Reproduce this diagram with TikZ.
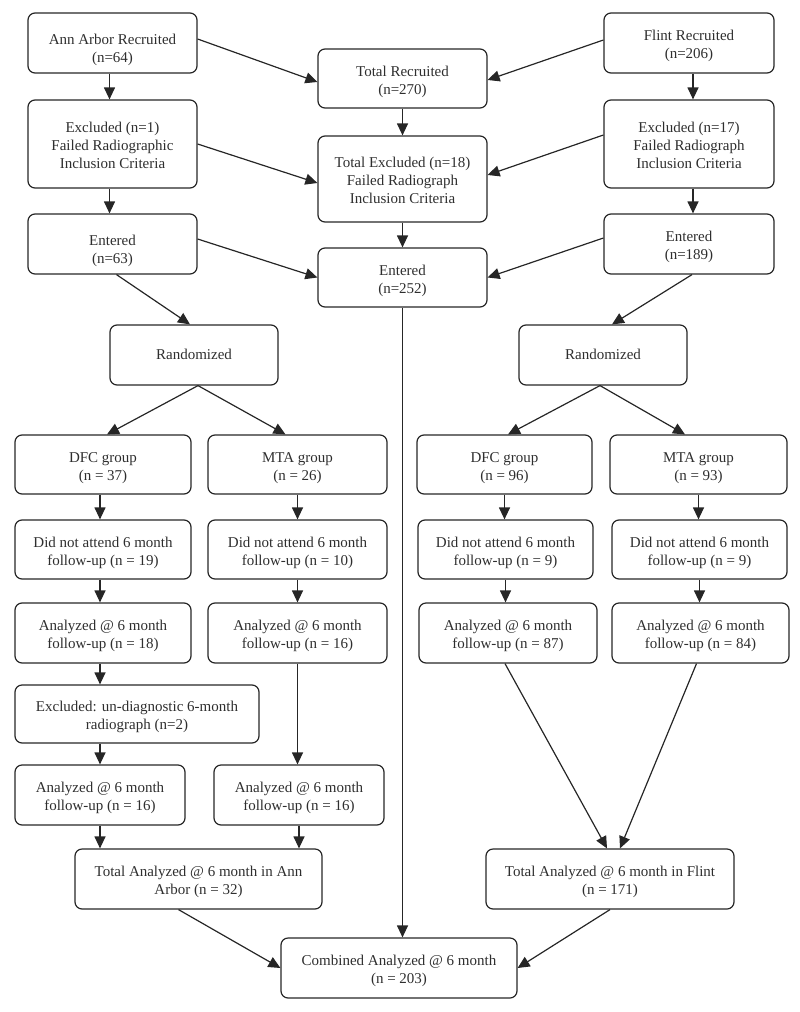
\documentclass[tikz,border=0pt]{standalone}
\usepackage{fontspec}
\setmainfont{Liberation Serif}
\usetikzlibrary{arrows.meta}
\newcommand\bt[2][3pt]{\raisebox{-#1}[\height][\depth]{\begin{tabular}{@{}c@{}}#2\end{tabular}}}
\begin{document}
\begin{tikzpicture}[x=1pt,y=1pt,
  box/.style={draw=black!85, line width=1.2pt, rounded corners=7pt, inner sep=0pt,
    font=\fontsize{15}{18}\selectfont, text=black!82},
  arr/.style={draw=black!85, line width=1.2pt, -{Triangle[length=12pt,width=11pt]}}]
\useasboundingbox (0,0) rectangle (800,-1012);
% top rows
\node[box, minimum width=169pt, minimum height=60pt] (aa) at (112.5,-43) {\bt[7pt]{Ann Arbor Recruited\\(n=64)}};
\node[box, minimum width=169pt, minimum height=88pt] (aaex) at (112.5,-144) {\bt{Excluded (n=1)\\Failed Radiographic\\Inclusion Criteria}};
\node[box, minimum width=169pt, minimum height=60pt] (aaen) at (112.5,-244) {\bt[7pt]{Entered\\(n=63)}};
\node[box, minimum width=169pt, minimum height=59pt] (tr) at (402.5,-78.5) {\bt{Total Recruited\\(n=270)}};
\node[box, minimum width=169pt, minimum height=86pt] (tex) at (402.5,-179) {\bt{Total Excluded (n=18)\\Failed Radiograph\\Inclusion Criteria}};
\node[box, minimum width=169pt, minimum height=59pt] (ten) at (402.5,-277.5) {\bt{Entered\\(n=252)}};
\node[box, minimum width=170pt, minimum height=60pt] (fr) at (689,-43) {\bt{Flint Recruited\\(n=206)}};
\node[box, minimum width=170pt, minimum height=88pt] (fex) at (689,-144) {\bt{Excluded (n=17)\\Failed Radiograph\\Inclusion Criteria}};
\node[box, minimum width=170pt, minimum height=60pt] (fen) at (689,-244) {\bt{Entered\\(n=189)}};
% randomized
\node[box, minimum width=168pt, minimum height=60pt] (rl) at (194,-355) {\bt[1pt]{Randomized}};
\node[box, minimum width=168pt, minimum height=60pt] (rr) at (603,-355) {\bt[1pt]{Randomized}};
% Ann Arbor groups
\node[box, minimum width=176pt, minimum height=59pt] (dfcl) at (103,-464.5) {\bt{DFC group\\(n = 37)}};
\node[box, minimum width=179pt, minimum height=59pt] (mtal) at (297.5,-464.5) {\bt{MTA group\\(n = 26)}};
\node[box, minimum width=176pt, minimum height=59pt] (dnal) at (103,-549.5) {\bt{Did not attend 6 month\\follow-up (n = 19)}};
\node[box, minimum width=179pt, minimum height=59pt] (dnam) at (297.5,-549.5) {\bt{Did not attend 6 month\\follow-up (n = 10)}};
\node[box, minimum width=176pt, minimum height=60pt] (anl) at (103,-633) {\bt{Analyzed @ 6 month\\follow-up (n = 18)}};
\node[box, minimum width=179pt, minimum height=60pt] (anm) at (297.5,-633) {\bt{Analyzed @ 6 month\\follow-up (n = 16)}};
\node[box, minimum width=244pt, minimum height=58pt] (exl) at (137,-714) {\bt{Excluded: un-diagnostic 6-month\\radiograph (n=2)}};
\node[box, minimum width=170pt, minimum height=60pt] (an2l) at (100,-795) {\bt{Analyzed @ 6 month\\follow-up (n = 16)}};
\node[box, minimum width=170pt, minimum height=60pt] (an2m) at (299,-795) {\bt{Analyzed @ 6 month\\follow-up (n = 16)}};
\node[box, minimum width=247pt, minimum height=60pt] (taa) at (198.5,-879) {\bt{Total Analyzed @ 6 month in Ann\\Arbor (n = 32)}};
% Flint groups
\node[box, minimum width=175pt, minimum height=59pt] (dfcr) at (504.5,-464.5) {\bt{DFC group\\(n = 96)}};
\node[box, minimum width=177pt, minimum height=59pt] (mtar) at (698.5,-464.5) {\bt{MTA group\\(n = 93)}};
\node[box, minimum width=175pt, minimum height=59pt] (dnar) at (505.5,-549.5) {\bt{Did not attend 6 month\\follow-up (n = 9)}};
\node[box, minimum width=175pt, minimum height=59pt] (dnar2) at (699.5,-549.5) {\bt{Did not attend 6 month\\follow-up (n = 9)}};
\node[box, minimum width=178pt, minimum height=60pt] (anr) at (508,-633) {\bt{Analyzed @ 6 month\\follow-up (n = 87)}};
\node[box, minimum width=177pt, minimum height=60pt] (anr2) at (700.5,-633) {\bt{Analyzed @ 6 month\\follow-up (n = 84)}};
\node[box, minimum width=248pt, minimum height=60pt] (tf) at (610,-879) {\bt{Total Analyzed @ 6 month in Flint\\(n = 171)}};
% combined
\node[box, minimum width=236pt, minimum height=60pt] (comb) at (399,-968) {\bt{Combined Analyzed @ 6 month\\(n = 203)}};
% arrows top
\draw[arr] ([xshift=-3pt]aa.south) -- ([xshift=-3pt]aaex.north);
\draw[arr] ([xshift=-3pt]aaex.south) -- ([xshift=-3pt]aaen.north);
\draw[arr] (tr) -- (tex);
\draw[arr] (tex) -- (ten);
\draw[arr] ([xshift=4pt]fr.south) -- ([xshift=4pt]fex.north);
\draw[arr] ([xshift=4pt]fex.south) -- ([xshift=4pt]fen.north);
\draw[arr] ([yshift=4pt]aa.east) -- ([yshift=-3.5pt]tr.west);
\draw[arr] (aaex.east) -- ([yshift=-4pt]tex.west);
\draw[arr] ([yshift=5pt]aaen.east) -- (ten.west);
\draw[arr] ([yshift=3pt]fr.west) -- ([yshift=-1.5pt]tr.east);
\draw[arr] ([yshift=9pt]fex.west) -- ([yshift=4pt]tex.east);
\draw[arr] ([yshift=6pt]fen.west) -- (ten.east);
\draw[arr] ([xshift=4pt]aaen.south) -- ([xshift=-4pt]rl.north);
\draw[arr] ([xshift=3pt]fen.south) -- ([xshift=9pt]rr.north);
\draw[arr] ([xshift=4pt]rl.south) -- ([xshift=4pt]dfcl.north);
\draw[arr] ([xshift=4pt]rl.south) -- ([xshift=-12pt]mtal.north);
\draw[arr] ([xshift=-3pt]rr.south) -- ([xshift=3.5pt]dfcr.north);
\draw[arr] ([xshift=-3pt]rr.south) -- ([xshift=-13.5pt]mtar.north);
% Ann Arbor columns
\draw[arr] ([xshift=-3pt]dfcl.south) -- ([xshift=-3pt]dnal.north);
\draw[arr] ([xshift=-3pt]dnal.south) -- ([xshift=-3pt]anl.north);
\draw[arr] ([xshift=-3pt]anl.south) -- ([xshift=-3pt]anl.south |- exl.north);
\draw[arr] (an2l.north |- exl.south) -- (an2l.north);
\draw[arr] (mtal) -- (dnam);
\draw[arr] (dnam) -- (anm);
\draw[arr] (anm.south) -- (anm.south |- an2m.north);
\draw[arr] (an2l.south) -- (an2l.south |- taa.north);
\draw[arr] (an2m.south) -- (an2m.south |- taa.north);
% Flint columns
\draw[arr] (dfcr) -- (dfcr.south |- dnar.north);
\draw[arr] (dnar.south) -- (dnar.south |- anr.north);
\draw[arr] (mtar) -- (mtar.south |- dnar2.north);
\draw[arr] (dnar2.south) -- (dnar2.south |- anr2.north);
\draw[arr] ([xshift=-3pt]anr.south) -- ([xshift=-3pt]tf.north);
\draw[arr] ([xshift=-4pt]anr2.south) -- ([xshift=10pt]tf.north);
% bottom
\draw[arr] (ten.south) -- (ten.south |- comb.north);
\draw[arr] ([xshift=-20pt]taa.south) -- (comb.west);
\draw[arr] (tf.south) -- (comb.east);
\end{tikzpicture}
\end{document}
